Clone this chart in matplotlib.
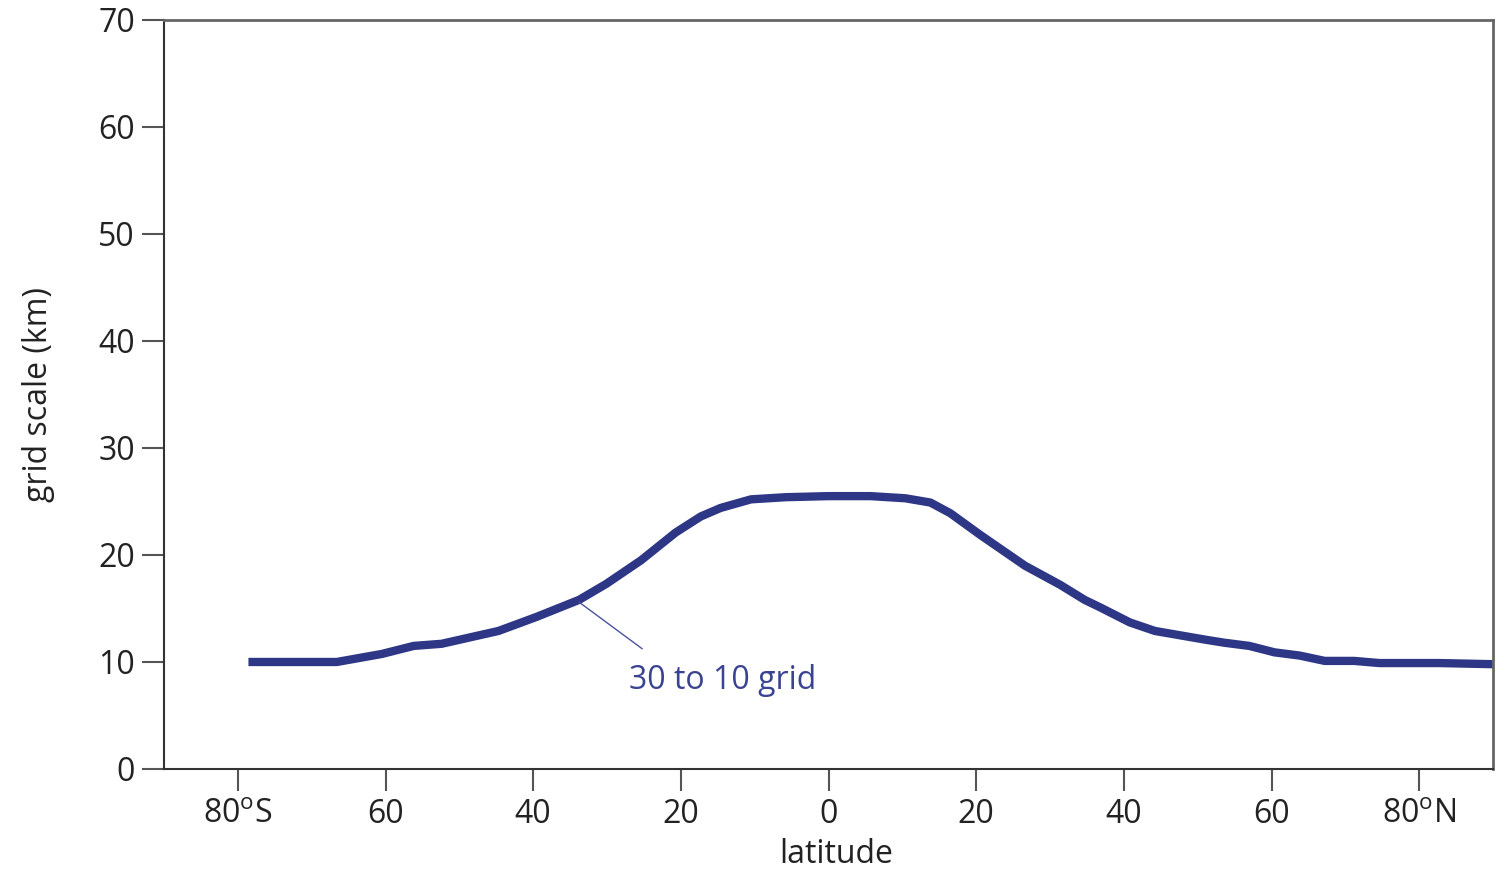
import matplotlib
matplotlib.use('Agg')
import matplotlib.pyplot as plt
import numpy as np

# latitude (deg, negative = south) and grid scale (km)
lat = [-78.0, -66.6, -60.5, -56.2, -52.4, -44.7, -39.6, -33.8, -30.1, -25.4,
       -20.7, -17.3, -14.6, -10.5, -5.8, 0.0, 5.7, 10.4, 13.8, 16.5,
       20.5, 26.6, 31.4, 34.7, 36.8, 40.8, 44.2, 50.9, 53.6, 57.0,
       60.4, 63.8, 67.2, 71.2, 74.6, 82.7, 89.5]
scale_km = [10.0, 10.0, 10.75, 11.5, 11.7, 12.9, 14.2, 15.8, 17.3, 19.5,
            22.1, 23.6, 24.4, 25.2, 25.4, 25.5, 25.5, 25.3, 24.9, 23.9,
            21.9, 19.0, 17.2, 15.8, 15.1, 13.7, 12.9, 12.1, 11.8, 11.5,
            10.9, 10.6, 10.1, 10.1, 9.9, 9.9, 9.8]

xticks = [-80, -60, -40, -20, 0, 20, 40, 60, 80]
xticklabels = [r'80$^{\rm o}$S', '60', '40', '20', '0', '20', '40', '60', r'80$^{\rm o}$N']
yticks = [0, 10, 20, 30, 40, 50, 60, 70]

plt.rcParams['font.family'] = ['Open Sans', 'DejaVu Sans']
plt.rcParams['mathtext.fontset'] = 'custom'
plt.rcParams['mathtext.rm'] = 'Open Sans'
plt.rcParams['font.size'] = 23

fig = plt.figure(figsize=(15.06, 8.69), dpi=100)
ax = fig.add_axes([0.1089, 0.1151, 0.8825, 0.8619])

line_col = '#2d3785'
ax.plot(lat, scale_km, color=line_col, linewidth=6.0, solid_joinstyle='round')

ax.annotate('30 to 10 grid', xy=(-33.8, 15.6), xytext=(-27.0, 8.3),
            color='#3a4392', fontsize=23, va='center', ha='left',
            arrowprops=dict(arrowstyle='-', color='#4a53a0', lw=1.0,
                            shrinkA=0, shrinkB=0, relpos=(0.07, 1.45)))

ax.set_xlim(-90, 90)
ax.set_ylim(0, 70)
ax.set_xticks(xticks)
ax.set_xticklabels(xticklabels)
ax.set_yticks(yticks)

ax.tick_params(direction='out', length=16, width=1.5, color='#555555',
               labelcolor='#222222', pad=5)

for s in ['left', 'bottom']:
    ax.spines[s].set_color('#333333')
    ax.spines[s].set_linewidth(1.5)
for s in ['top', 'right']:
    ax.spines[s].set_color('#666666')
    ax.spines[s].set_linewidth(2.0)

ax.set_xlabel('latitude', color='#222222')
ax.set_ylabel('grid scale (km)', color='#222222')
ax.xaxis.set_label_coords(0.506, -0.092)
ax.yaxis.set_label_coords(-0.082, 0.5)

fig.savefig('out.png', dpi=100)
